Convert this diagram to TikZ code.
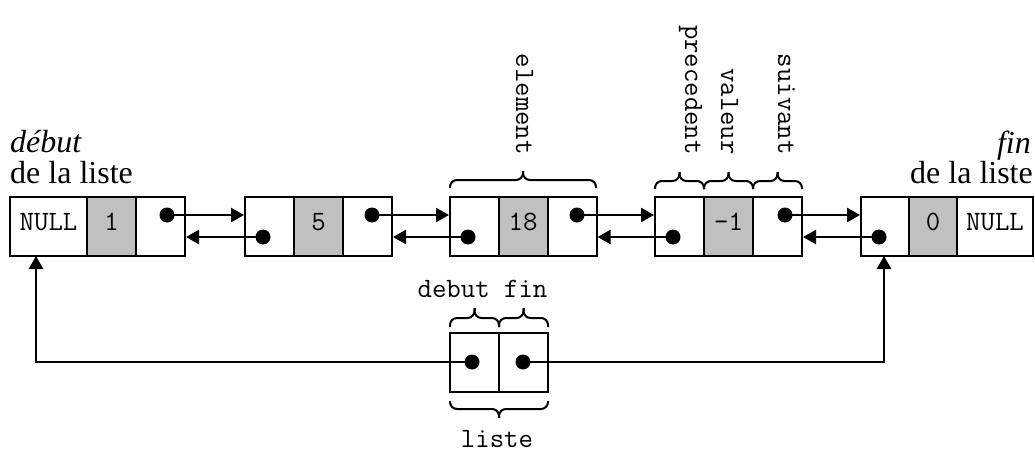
\documentclass[tikz,border=0pt]{standalone}
\usepackage{fontspec}
\setmainfont{Liberation Serif}
\usetikzlibrary{arrows.meta,calc}
\definecolor{cellgrey}{RGB}{192,192,192}
\newcommand\mybrace[4]{% x1, x2, y of ends, signed height step
  \draw[brc] ({#1},{#3}) -- ({#1},{#3+(#4)}) -- ({(#1+#2)/2},{#3+(#4)}) -- ({(#1+#2)/2},{#3+2.1*(#4)});
  \draw[brc] ({#2},{#3}) -- ({#2},{#3+(#4)}) -- ({(#1+#2)/2},{#3+(#4)}) -- ({(#1+#2)/2},{#3+2.1*(#4)});
}
\begin{document}
\begin{tikzpicture}[x=1pt,y=1pt,
  cell/.style={draw,line width=2pt,minimum height=59pt,minimum width=49pt,inner sep=0pt,
    font=\ttfamily\fontsize{28}{32}\selectfont,text height=17pt,text depth=9pt},
  valcell/.style={cell,fill=cellgrey},
  dot/.style={circle,fill=black,minimum size=15pt,inner sep=0pt},
  arr/.style={line width=2.5pt,-{Triangle[length=13pt,width=14pt]}},
  brc/.style={line width=2pt,rounded corners=7pt},
  mono/.style={font=\ttfamily\fontsize{28}{32}\selectfont,inner sep=0pt},
  vlab/.style={mono,rotate=-90,anchor=base east},
  serif/.style={font=\fontsize{32}{36}\selectfont,inner sep=0pt}]
\useasboundingbox (0,0) rectangle (1035,-452);

% element 1
\node[cell,minimum width=77pt] (a1) at (48.5,-226.5) {NULL};
\node[valcell] (b1) at (111.5,-226.5) {1};
\node[cell] (c1) at (160.5,-226.5) {};
% element 2
\node[cell] (a2) at (269.5,-226.5) {};
\node[valcell] (b2) at (318.5,-226.5) {5};
\node[cell] (c2) at (367.5,-226.5) {};
% element 3
\node[cell] (a3) at (474.5,-226.5) {};
\node[valcell] (b3) at (523,-226.5) {18};
\node[cell] (c3) at (572,-226.5) {};
% element 4
\node[cell] (a4) at (679.5,-226.5) {};
\node[valcell] (b4) at (728.5,-226.5) {-1};
\node[cell] (c4) at (777.5,-226.5) {};
% element 5
\node[cell,minimum width=48pt] (a5) at (885,-226.5) {};
\node[valcell,minimum width=48pt] (b5) at (933,-226.5) {0};
\node[cell,minimum width=76pt] (c5) at (995,-226.5) {NULL};

% liste
\node[cell] (la) at (474.5,-362.5) {};
\node[cell] (lb) at (523.5,-362.5) {};

% dots
\node[dot] (u1) at (167,-215) {};
\node[dot] (u2) at (372,-215) {};
\node[dot] (u3) at (577,-215) {};
\node[dot] (u4) at (785,-215) {};
\node[dot] (l2) at (263,-237) {};
\node[dot] (l3) at (468,-237) {};
\node[dot] (l4) at (673,-237) {};
\node[dot] (l5) at (879,-237) {};
\node[dot] (ld1) at (472,-362) {};
\node[dot] (ld2) at (523,-362) {};

% next arrows
\draw[arr] (u1.center) -- (u1 -| a2.west);
\draw[arr] (u2.center) -- (u2 -| a3.west);
\draw[arr] (u3.center) -- (u3 -| a4.west);
\draw[arr] (u4.center) -- (u4 -| a5.west);
% previous arrows
\draw[arr] (l2.center) -- (l2 -| c1.east);
\draw[arr] (l3.center) -- (l3 -| c2.east);
\draw[arr] (l4.center) -- (l4 -| c3.east);
\draw[arr] (l5.center) -- (l5 -| c4.east);

% liste pointers
\coordinate (pL) at (36,-256);
\coordinate (pR) at (884,-256);
\draw[arr] (ld1.center) -| (pL);
\draw[arr] (ld2.center) -| (pR);

% braces
\mybrace{450}{596}{-188}{8}
\mybrace{655}{704}{-189}{8}
\mybrace{704}{753}{-189}{8}
\mybrace{753}{802}{-189}{8}
\mybrace{450}{499}{-327}{9}
\mybrace{499}{548}{-327}{9}
\mybrace{450}{548}{-401}{-8}

% labels
\node[vlab] (lel) at (516,-155) {element};
\node[vlab] (lpr) at (685,-155) {precedent};
\node[vlab] (lva) at (721,-155) {valeur};
\node[vlab] (lsu) at (778,-155) {suivant};
\node[mono,anchor=base] (ldf) at (482.5,-297) {debut fin};
\node[mono,anchor=base] (lli) at (497,-447) {liste};

\node[serif,anchor=base west] (t1) at (10,-152) {\textit{début}};
\node[serif,anchor=base west] (t2) at (10,-183) {de la liste};
\node[serif,anchor=base east] (t3) at (1031,-153) {\textit{fin}};
\node[serif,anchor=base east] (t4) at (1033,-183) {de la liste};
\end{tikzpicture}
\end{document}
